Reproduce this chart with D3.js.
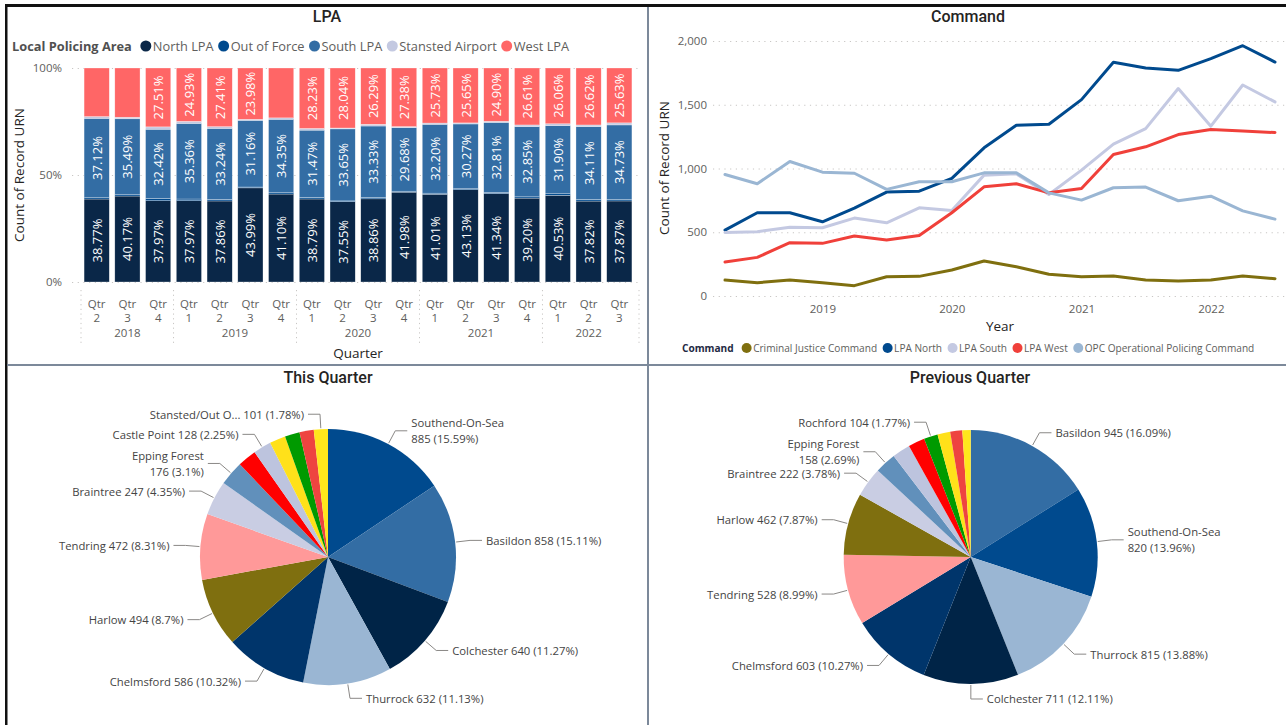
<!DOCTYPE html>
<html><head><meta charset="utf-8">
<script src="https://cdn.jsdelivr.net/npm/d3@7/dist/d3.min.js"></script>
<style>
html,body{margin:0;padding:0;background:#fff;}
svg{display:block;}
</style></head><body>
<svg id="chart" width="1286" height="725"></svg>
<script>
// ================= DATA =================
// LPA – 100% stacked columns (percent of Count of Record URN)
const quarterNums  = ["2","3","4","1","2","3","4","1","2","3","4","1","2","3","4","1","2","3"];
const quarterYears = ["2018","2018","2018","2019","2019","2019","2019","2020","2020","2020","2020","2021","2021","2021","2021","2022","2022","2022"];
const lpaKeys = ["North LPA","Out of Force","South LPA","Stansted Airport","West LPA"];
const northLPA        = [38.77,40.17,37.97,37.97,37.86,43.99,41.10,38.79,37.55,38.86,41.98,41.01,43.13,41.34,39.20,40.53,37.82,37.87];
const outOfForce      = [0.60,0.60,1.00,0.80,0.70,0.40,0.60,0.70,0.35,0.70,0.45,0.50,0.45,0.45,0.60,0.70,0.70,0.80];
const southLPA        = [37.12,35.49,32.42,35.36,33.24,31.16,34.35,31.47,33.65,33.33,29.68,32.20,30.27,32.81,32.85,31.90,34.11,34.73];
const stanstedAirport = [0.81,0.74,1.10,0.94,0.79,0.47,0.65,0.81,0.41,0.82,0.51,0.56,0.50,0.50,0.74,0.81,0.75,0.97];
const westLPA         = [22.70,23.00,27.51,24.93,27.41,23.98,23.30,28.23,28.04,26.29,27.38,25.73,25.65,24.90,26.61,26.06,26.62,25.63];
const pctTicks = [0,50,100];

// Command – lines (Count of Record URN by quarter)
const quarterDates = ["2018-04-01","2018-07-01","2018-10-01","2019-01-01","2019-04-01","2019-07-01","2019-10-01","2020-01-01","2020-04-01","2020-07-01","2020-10-01","2021-01-01","2021-04-01","2021-07-01","2021-10-01","2022-01-01","2022-04-01","2022-07-01"];
const commandKeys = ["Criminal Justice Command","LPA North","LPA South","LPA West","OPC Operational Policing Command"];
const criminalJustice = [125,104,125,104,81,151,154,204,274,230,170,151,157,125,117,125,157,136];
const lpaNorth        = [517,653,653,582,689,815,822,922,1162,1339,1347,1540,1833,1788,1770,1862,1963,1835];
const lpaSouth        = [499,504,540,535,611,574,692,671,948,958,796,987,1191,1313,1627,1332,1655,1522];
const lpaWest         = [266,303,418,413,470,439,475,653,856,880,809,843,1110,1170,1266,1306,1295,1282];
const opcCommand      = [953,880,1055,971,963,836,896,896,966,966,809,752,849,854,747,783,668,603];
const countTicks = [0,500,1000,1500,2000];

// Pies – districts
const thisQuarterNames  = ["Southend-On-Sea","Basildon","Colchester","Thurrock","Chelmsford","Harlow","Tendring","Braintree","Epping Forest","Uttlesford","Castle Point","Brentwood","Rochford","Maldon","Stansted/Out Of Force"];
const thisQuarterValues = [885,858,640,632,586,494,472,247,176,135,128,115,106,102,101];
const thisQuarterShown  = ["Southend-On-Sea","Basildon","Colchester","Thurrock","Chelmsford","Harlow","Tendring","Braintree","Epping Forest","Castle Point","Stansted/Out Of Force"];
const prevQuarterNames  = ["Basildon","Southend-On-Sea","Thurrock","Colchester","Chelmsford","Tendring","Harlow","Braintree","Epping Forest","Castle Point","Uttlesford","Rochford","Brentwood","Maldon","Stansted/Out Of Force"];
const prevQuarterValues = [945,820,815,711,603,528,462,222,158,135,123,104,95,90,62];
const prevQuarterShown  = ["Basildon","Southend-On-Sea","Thurrock","Colchester","Chelmsford","Tendring","Harlow","Braintree","Epping Forest","Rochford"];
const wrappedNames = ["Southend-On-Sea","Epping Forest"];

// ================= STYLE =================
const FONT = "'Open Sans','Segoe UI',sans-serif";
const TITLE_FONT = "Roboto,'Open Sans',sans-serif";
const GRAY = "#605E5C", DARK = "#252423", GRID = "#C8C6C4";
const lpaColors = {"North LPA":"#0A2748","Out of Force":"#004A8E","South LPA":"#336DA4","Stansted Airport":"#C4C9E1","West LPA":"#FF6666"};
const commandColors = {"Criminal Justice Command":"#7F6F0F","LPA North":"#004A8E","LPA South":"#C4C9E2","LPA West":"#F0403A","OPC Operational Policing Command":"#9AB6D3"};
const districtColors = {"Southend-On-Sea":"#004A8E","Basildon":"#336DA4","Colchester":"#002447","Thurrock":"#9AB6D3","Chelmsford":"#00356B","Harlow":"#7F6F0F","Tendring":"#FF9999","Braintree":"#C9CDE3","Epping Forest":"#6190BB","Uttlesford":"#FF0000","Castle Point":"#BDC4DE","Brentwood":"#FFE11A","Rochford":"#009A00","Maldon":"#EE4440","Stansted/Out Of Force":"#FFE71C"};

const svg = d3.select("#chart").style("font-family", FONT);

// ================= PANEL FRAME =================
svg.append("rect").attr("x",5).attr("y",4).attr("width",1281).attr("height",3).attr("fill","#111");
svg.append("rect").attr("x",5).attr("y",4).attr("width",2.5).attr("height",721).attr("fill","#111");
svg.append("rect").attr("x",647).attr("y",7).attr("width",2).attr("height",718).attr("fill","#7C899A");
svg.append("rect").attr("x",7).attr("y",364).attr("width",1279).attr("height",2).attr("fill","#7C899A");

function title(txt, x, y){
  svg.append("text").attr("x",x).attr("y",y).attr("text-anchor","middle").attr("dominant-baseline","central")
    .style("font-family",TITLE_FONT).style("font-size","16px").style("font-weight",500).attr("fill",DARK).text(txt);
}
function legend(x, y, heading, keys, colors, size, r, gapAfterHead, gapItem){
  const g = svg.append("g");
  const h = g.append("text").attr("x",x).attr("y",y).attr("dominant-baseline","central")
    .style("font-size",size+"px").style("font-weight",700).attr("fill", heading.color).text(heading.text);
  let cx = x + h.node().getComputedTextLength() + gapAfterHead;
  keys.forEach(k => {
    g.append("circle").attr("cx",cx+r).attr("cy",y).attr("r",r).attr("fill",colors[k]);
    const t = g.append("text").attr("x",cx+2*r+1.5).attr("y",y).attr("dominant-baseline","central")
      .style("font-size",size+"px").attr("fill",GRAY).text(k);
    cx = cx + 2*r + 1.5 + t.node().getComputedTextLength() + gapItem;
  });
}

// ================= LPA STACKED BAR =================
title("LPA", 327, 16);
legend(12, 46, {text:"Local Policing Area", color:"#505050"}, lpaKeys, lpaColors, 12.8, 5.5, 8.5, 4.5);

const lpaRows = quarterNums.map((q,i) => ({i, "North LPA":northLPA[i], "Out of Force":outOfForce[i], "South LPA":southLPA[i], "Stansted Airport":stanstedAirport[i], "West LPA":westLPA[i]}));
const xBand = d3.scaleBand().domain(d3.range(quarterNums.length)).range([81,635]).paddingInner(0.18).paddingOuter(0.1);
const yPct = d3.scaleLinear().domain([0,100]).range([282,68]);

const yAxisL = svg.append("g").attr("transform","translate(72,0)")
  .call(d3.axisLeft(yPct).tickValues(pctTicks).tickFormat(d=>d+"%").tickSize(-568).tickPadding(10));
yAxisL.select(".domain").remove();
yAxisL.selectAll("line").attr("stroke",GRID).attr("stroke-dasharray","1.2,4.5");
yAxisL.selectAll("text").attr("fill",GRAY).style("font-size","11.5px").style("font-family",FONT);

const stacked = d3.stack().keys(lpaKeys)(lpaRows);
const showLabel = {"North LPA":true,"South LPA":true,"West LPA":true};
const minLabelPct = 23.5;
stacked.forEach(layer => {
  const key = layer.key;
  svg.append("g").selectAll("rect").data(layer).join("rect")
    .attr("x", d => xBand(d.data.i)).attr("width", xBand.bandwidth())
    .attr("y", d => yPct(d[1])).attr("height", d => yPct(d[0]) - yPct(d[1]))
    .attr("fill", lpaColors[key]).attr("stroke","#fff").attr("stroke-width",0.5).attr("stroke-opacity",0.6);
  if (showLabel[key]) {
    svg.append("g").selectAll("text").data(layer.filter(d => d.data[key] >= minLabelPct)).join("text")
      .attr("transform", d => `translate(${xBand(d.data.i)+xBand.bandwidth()/2},${(yPct(d[0])+yPct(d[1]))/2}) rotate(-90)`)
      .attr("text-anchor","middle").attr("dominant-baseline","central")
      .style("font-size","13px").attr("fill","#fff").text(d => d.data[key].toFixed(2)+"%");
  }
});

// x axis labels (hierarchical)
const xAx = svg.append("g").attr("transform","translate(0,296)")
  .call(d3.axisBottom(xBand).tickSize(0).tickFormat(() => "Qtr"));
xAx.select(".domain").remove();
xAx.selectAll("text").attr("y",7).attr("dy","0").attr("dominant-baseline","central").attr("fill",GRAY).style("font-size","11.5px").style("font-family",FONT);
svg.append("g").selectAll("text").data(quarterNums).join("text")
  .attr("x",(d,i)=>xBand(i)+xBand.bandwidth()/2).attr("y",317).attr("text-anchor","middle").attr("dominant-baseline","central")
  .attr("fill",GRAY).style("font-size","11.5px").text(d=>d);
const yearGroups = d3.groups(d3.range(quarterYears.length), i => quarterYears[i]);
const halfGap = (xBand.step() - xBand.bandwidth())/2;
svg.append("g").selectAll("text").data(yearGroups).join("text")
  .attr("x", d => (xBand(d[1][0]) + xBand(d[1][d[1].length-1]) + xBand.bandwidth())/2)
  .attr("y",332).attr("text-anchor","middle").attr("dominant-baseline","central")
  .attr("fill",GRAY).style("font-size","11.5px").text(d=>d[0]);
const sepX = [xBand.range()[0]].concat(yearGroups.slice(1).map(d => xBand(d[1][0]) - halfGap)).concat([xBand.range()[1]+4]);
svg.append("g").selectAll("line").data(sepX).join("line")
  .attr("x1",d=>d).attr("x2",d=>d).attr("y1",290).attr("y2",343)
  .attr("stroke",GRID).attr("stroke-dasharray","1.2,3.5");

svg.append("text").attr("transform","translate(19,175) rotate(-90)").attr("text-anchor","middle").attr("dominant-baseline","central")
  .style("font-size","13.5px").attr("fill",DARK).text("Count of Record URN");
svg.append("text").attr("x",358).attr("y",353).attr("text-anchor","middle").attr("dominant-baseline","central")
  .style("font-size","13.5px").attr("fill",DARK).text("Quarter");

// ================= COMMAND LINES =================
title("Command", 968, 16);
const parseDate = d3.timeParse("%Y-%m-%d");
const dates = quarterDates.map(parseDate);
const xTime = d3.scaleTime().domain(d3.extent(dates)).range([725,1275]);
const yCount = d3.scaleLinear().domain([0,2000]).range([296,41]);

const yAxisR = svg.append("g").attr("transform","translate(713,0)")
  .call(d3.axisLeft(yCount).tickValues(countTicks).tickFormat(d3.format(",")).tickSize(-573).tickPadding(6));
yAxisR.select(".domain").remove();
yAxisR.selectAll("line").attr("stroke",GRID).attr("stroke-dasharray","1.2,4.5");
yAxisR.selectAll("text").attr("fill",GRAY).style("font-size","11.5px").style("font-family",FONT);

const xAxisR = svg.append("g").attr("transform","translate(0,300)")
  .call(d3.axisBottom(xTime).ticks(d3.timeYear.every(1)).tickFormat(d3.timeFormat("%Y")).tickSize(0).tickPadding(0));
xAxisR.select(".domain").remove();
xAxisR.selectAll("text").attr("y",8).attr("dy","0").attr("dominant-baseline","central").attr("fill",GRAY).style("font-size","11.5px").style("font-family",FONT);

const commandSeries = [criminalJustice, lpaNorth, lpaSouth, lpaWest, opcCommand];
const lineGen = d3.line().x((d,i)=>xTime(dates[i])).y(d=>yCount(d));
commandKeys.forEach((k,j) => {
  svg.append("path").attr("d", lineGen(commandSeries[j])).attr("fill","none")
    .attr("stroke", commandColors[k]).attr("stroke-width",3).attr("stroke-linejoin","round").attr("stroke-linecap","round");
});
svg.append("text").attr("transform","translate(664,168) rotate(-90)").attr("text-anchor","middle").attr("dominant-baseline","central")
  .style("font-size","13.5px").attr("fill",DARK).text("Count of Record URN");
svg.append("text").attr("x",1000).attr("y",326).attr("text-anchor","middle").attr("dominant-baseline","central")
  .style("font-size","13.5px").attr("fill",DARK).text("Year");
legend(682, 348, {text:"Command", color:"#1F2A44"}, commandKeys, commandColors, 10.1, 5, 8, 5.5);

// ================= PIES =================
const pctFmt = d3.format(".2~f");
function pie(names, values, shown, cx, cy, r){
  const total = d3.sum(values);
  const rows = names.map((n,i)=>({name:n, value:values[i]}));
  const arcs = d3.pie().sort(null).value(d=>d.value)(rows);
  const arcGen = d3.arc().innerRadius(0).outerRadius(r);
  const g = svg.append("g").attr("transform",`translate(${cx},${cy})`);
  g.selectAll("path").data(arcs).join("path").attr("d",arcGen).attr("fill",d=>districtColors[d.data.name]);
  arcs.filter(a => shown.includes(a.data.name)).forEach(a => {
    const m = (a.startAngle + a.endAngle)/2;
    const s = Math.sin(m), c = Math.cos(m);
    const right = s >= 0;
    const p1 = [(r+1)*s, -(r+1)*c], p2 = [(r+15)*s, -(r+15)*c];
    const p3 = [p2[0] + (right?12:-12), p2[1]];
    g.append("polyline").attr("points",[p1,p2,p3].map(p=>p.join(",")).join(" "))
      .attr("fill","none").attr("stroke","#8A8886").attr("stroke-width",1);
    let nm = a.data.name.length > 16 ? a.data.name.slice(0,14)+"..." : a.data.name;
    const valTxt = `${a.data.value} (${pctFmt(a.data.value/total*100)}%)`;
    const t = g.append("text").attr("x", p3[0] + (right?4:-4)).attr("y", p2[1])
      .attr("text-anchor", right?"start":"end").attr("fill","#444").style("font-size","11.3px");
    if (wrappedNames.includes(a.data.name)) {
      t.append("tspan").attr("x", p3[0] + (right?4:-4)).attr("y", p2[1]-8).attr("dominant-baseline","central").text(nm);
      t.append("tspan").attr("x", p3[0] + (right?4:-4)).attr("y", p2[1]+8).attr("dominant-baseline","central").text(valTxt);
    } else {
      t.attr("dominant-baseline","central").text(nm + " " + valTxt);
    }
  });
}
title("This Quarter", 328, 377);
pie(thisQuarterNames, thisQuarterValues, thisQuarterShown, 328, 557, 128);
title("Previous Quarter", 970, 377);
pie(prevQuarterNames, prevQuarterValues, prevQuarterShown, 970.7, 557, 127);
</script>
</body></html>
